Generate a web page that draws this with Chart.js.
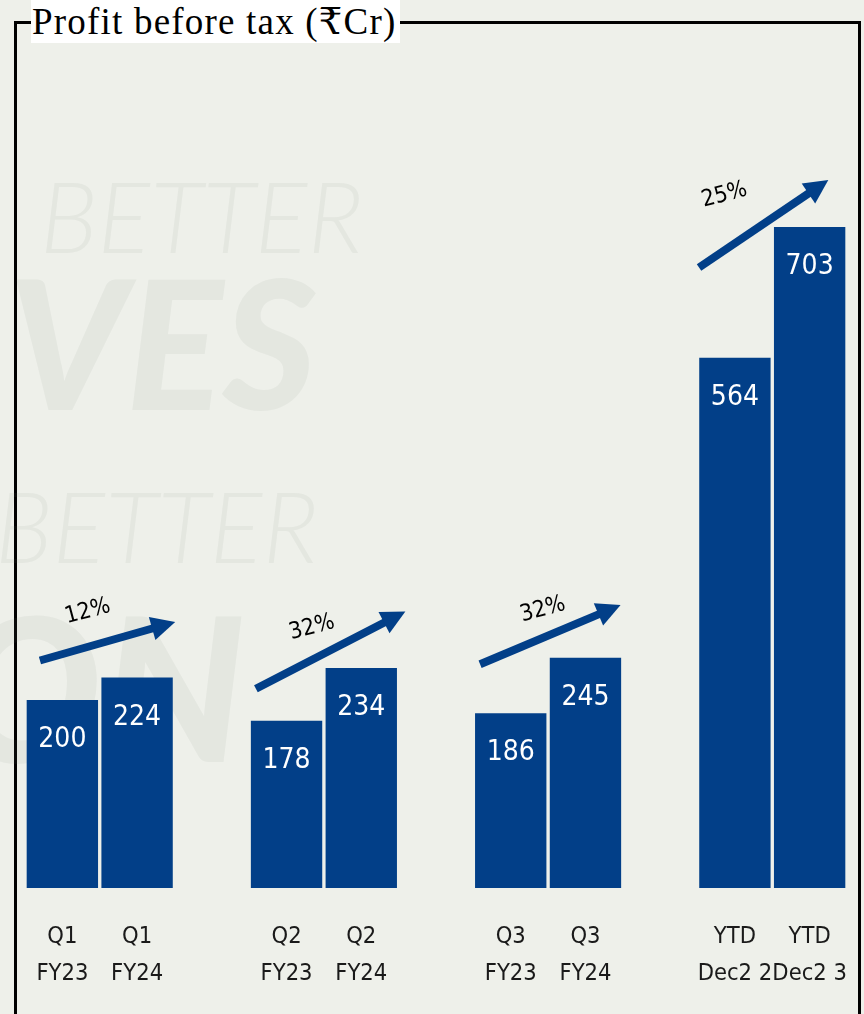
<!DOCTYPE html>
<html>
<head>
<meta charset="utf-8">
<script src="https://cdn.jsdelivr.net/npm/chart.js@4/dist/chart.umd.min.js"></script>
<style>
  html, body { margin: 0; padding: 0; }
  body { width: 864px; height: 1014px; overflow: hidden; background: #eef0ea; position: relative; }
  #frame { position: absolute; left: 14px; top: 21px; width: 841px; height: 1100px; border: 3px solid #000; }
  #title {
    position: absolute; left: 31px; top: 0; height: 43px; padding: 0 3px 0 1px;
    background: #fff; font: 37px 'Liberation Serif', 'DejaVu Serif', serif; letter-spacing: 1.2px;
    line-height: 43px; color: #000; white-space: nowrap;
  }
  #wrap { position: absolute; left: 0; top: 0; width: 864px; height: 1014px; }
</style>
</head>
<body>
<div id="frame"></div>
<div id="title">Profit before tax (₹Cr)</div>
<div id="wrap"><canvas id="chart" width="864" height="1014"></canvas></div>
<script>
const NARROW = "'Liberation Sans Narrow', 'DejaVu Sans Condensed', sans-serif";

// categories (empty slots separate the groups)
const labels = [
  ['Q1', 'FY23'], ['Q1', 'FY24'], '',
  ['Q2', 'FY23'], ['Q2', 'FY24'], '',
  ['Q3', 'FY23'], ['Q3', 'FY24'], '',
  ['YTD', 'Dec2 2'], ['YTD', 'Dec2 3']
];
const profit = [200, 224, null, 178, 234, null, 186, 245, null, 564, 703];

// growth arrows, in category index / value units
const growth = ['12%', '32%', '32%', '25%'];
const arrowFromX = [-0.3, 2.59, 5.59, 8.52];
const arrowFromY = [242, 212, 238, 660];
const arrowToX = [1.51, 4.59, 7.47, 10.25];
const arrowToY = [283, 294, 301, 753];
const growthX = [0.34, 3.34, 6.43, 8.86];
const growthY = [294, 277, 296, 737];

const BLUE = '#023f88';

const watermark = {
  id: 'watermark',
  beforeDraw(chart) {
    const ctx = chart.ctx;
    ctx.save();
    ctx.fillStyle = 'rgba(120,125,115,0.08)';
    ctx.textBaseline = 'alphabetic';
    ctx.font = 'italic 300 98px Lato, sans-serif';
    ctx.fillText('BETTER', 40, 253);
    ctx.font = 'italic 900 180px Lato, sans-serif';
    ctx.fillText('VES', 8, 410);
    ctx.font = 'italic 300 98px Lato, sans-serif';
    ctx.fillText('BETTER', -5, 563);
    ctx.font = 'italic 900 200px Lato, sans-serif';
    ctx.fillText('ON', -50, 762);
    ctx.restore();
  }
};

const decorations = {
  id: 'decorations',
  afterDatasetsDraw(chart) {
    const ctx = chart.ctx;
    const xs = chart.scales.x, ys = chart.scales.y;
    ctx.save();
    // values inside the bars
    ctx.fillStyle = '#fff';
    ctx.font = '28px ' + NARROW;
    ctx.textAlign = 'center';
    ctx.textBaseline = 'middle';
    chart.getDatasetMeta(0).data.forEach((bar, i) => {
      if (profit[i] == null) return;
      ctx.fillText(String(profit[i]), bar.x, bar.y + 40);
    });
    // growth arrows
    growth.forEach((g, i) => {
      const x1 = xs.getPixelForValue(arrowFromX[i]);
      const y1 = ys.getPixelForValue(arrowFromY[i]);
      const x2 = xs.getPixelForValue(arrowToX[i]);
      const y2 = ys.getPixelForValue(arrowToY[i]);
      const ang = Math.atan2(y2 - y1, x2 - x1);
      const head = 24, half = 12;
      const bx = x2 - head * Math.cos(ang), by = y2 - head * Math.sin(ang);
      ctx.strokeStyle = BLUE;
      ctx.fillStyle = BLUE;
      ctx.lineWidth = 8;
      ctx.lineCap = 'butt';
      ctx.beginPath();
      ctx.moveTo(x1, y1);
      ctx.lineTo(bx + 2 * Math.cos(ang), by + 2 * Math.sin(ang));
      ctx.stroke();
      ctx.beginPath();
      ctx.moveTo(x2, y2);
      ctx.lineTo(bx + half * Math.sin(ang), by - half * Math.cos(ang));
      ctx.lineTo(bx - half * Math.sin(ang), by + half * Math.cos(ang));
      ctx.closePath();
      ctx.fill();
      // percentage label
      ctx.save();
      ctx.translate(xs.getPixelForValue(growthX[i]), ys.getPixelForValue(growthY[i]));
      ctx.rotate(-15 * Math.PI / 180);
      ctx.fillStyle = '#000';
      ctx.font = '23px ' + NARROW;
      ctx.fillText(g, 0, 0);
      ctx.restore();
    });
    ctx.restore();
  }
};

new Chart(document.getElementById('chart'), {
  type: 'bar',
  data: {
    labels: labels,
    datasets: [{
      label: 'Profit before tax',
      data: profit,
      backgroundColor: BLUE,
      borderWidth: 0,
      barPercentage: 0.955,
      categoryPercentage: 1
    }]
  },
  options: {
    responsive: false,
    animation: false,
    events: [],
    layout: { padding: { left: 25, right: 17, top: 40, bottom: 22 } },
    plugins: { legend: { display: false }, tooltip: { enabled: false } },
    scales: {
      x: {
        grid: { display: false, drawTicks: false },
        border: { display: false },
        afterFit(scale) {
          scale.height = 104;
          scale.paddingLeft = 0;
          scale.paddingRight = 0;
        },
        ticks: {
          color: '#1a1a1a',
          padding: 31,
          maxRotation: 0,
          autoSkip: false,
          font: { family: NARROW, size: 23.5, lineHeight: 1.56 }
        }
      },
      y: { display: false, min: 0, max: 902 }
    }
  },
  plugins: [watermark, decorations]
});
</script>
</body>
</html>
